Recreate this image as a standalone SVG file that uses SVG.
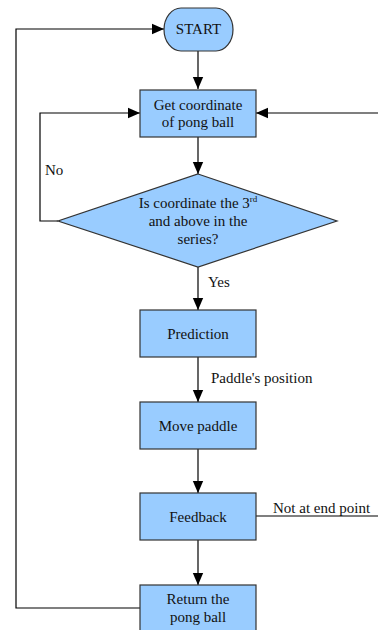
<svg xmlns="http://www.w3.org/2000/svg" width="378" height="630" viewBox="0 0 378 630">
<style>
.n{fill:#99ccff;stroke:#333;stroke-width:1.2}
.c{fill:none;stroke:#000;stroke-width:1.2}
text{font-family:"Liberation Serif","Times New Roman",serif;font-size:15px;fill:#111}
.m{text-anchor:middle}
</style>
<defs>
<marker id="ah" viewBox="0 0 12 12" refX="12" refY="6" markerWidth="12" markerHeight="12" markerUnits="userSpaceOnUse" orient="auto">
<path d="M0,0.8 L12,6 L0,11.2 Z" fill="#000"/>
</marker>
</defs>
<rect width="378" height="630" fill="#fff"/>
<g id="connectors">
<path class="c" d="M198,51 V89" marker-end="url(#ah)"/>
<path class="c" d="M198,137 V174" marker-end="url(#ah)"/>
<path class="c" d="M198,267 V310" marker-end="url(#ah)"/>
<path class="c" d="M198,357 V402" marker-end="url(#ah)"/>
<path class="c" d="M198,449 V493" marker-end="url(#ah)"/>
<path class="c" d="M198,540 V585" marker-end="url(#ah)"/>
<path class="c" d="M58,221 H40 V113 H140" marker-end="url(#ah)"/>
<path class="c" d="M140,608 H16 V29 H164" marker-end="url(#ah)"/>
<path class="c" d="M378,113 H256" marker-end="url(#ah)"/>
<path class="c" d="M256,516 H378"/>
<text x="45" y="175">No</text>
<text x="208" y="287">Yes</text>
<text x="211" y="383">Paddle's position</text>
<text x="273" y="513">Not at end point</text>
</g>
<g id="start">
<rect class="n" x="164" y="8" width="69" height="43" rx="17" ry="21.5"/>
<text class="m" x="198.5" y="34">START</text>
</g>
<g id="get">
<rect class="n" x="140" y="90" width="116" height="47"/>
<text class="m" x="198" y="110">Get coordinate</text>
<text class="m" x="198" y="127">of pong ball</text>
</g>
<g id="decision">
<polygon class="n" points="198,174 337,221 198,267 58,221"/>
<text class="m" x="198" y="208">Is coordinate the 3<tspan font-size="9" dy="-6">rd</tspan></text>
<text class="m" x="198" y="226">and above in the</text>
<text class="m" x="198" y="244">series?</text>
</g>
<g id="prediction">
<rect class="n" x="140" y="310" width="116" height="47"/>
<text class="m" x="198" y="339">Prediction</text>
</g>
<g id="move">
<rect class="n" x="140" y="402" width="116" height="47"/>
<text class="m" x="198" y="431">Move paddle</text>
</g>
<g id="feedback">
<rect class="n" x="140" y="493" width="116" height="47"/>
<text class="m" x="198" y="522">Feedback</text>
</g>
<g id="return">
<rect class="n" x="140" y="585" width="116" height="47"/>
<text class="m" x="198" y="604">Return the</text>
<text class="m" x="198" y="622">pong ball</text>
</g>
</svg>
